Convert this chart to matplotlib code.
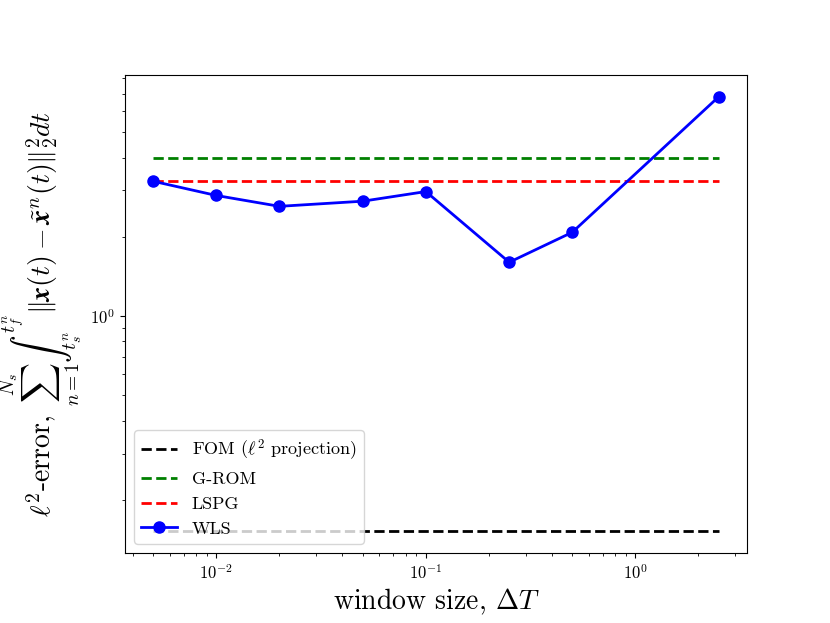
import numpy as np
import matplotlib
matplotlib.use('Agg')
import matplotlib.pyplot as plt

plt.rcParams['font.family'] = ['cmr10', 'DejaVu Serif']
plt.rcParams['mathtext.fontset'] = 'cm'
plt.rcParams['axes.formatter.use_mathtext'] = True

# window sizes and errors
window = [0.005, 0.01, 0.02, 0.05, 0.1, 0.25, 0.5, 2.5]
wls_err = [3.25, 2.87, 2.61, 2.73, 2.97, 1.60, 2.08, 6.81]
fom_err = 0.152
grom_err = 3.97
lspg_err = 3.25

fig = plt.figure(figsize=(8.3, 6.23), dpi=100)
ax = fig.add_axes([0.1506, 0.1124, 0.7494, 0.7672])

xx = [window[0], window[-1]]
ax.plot(xx, [fom_err, fom_err], 'k--', lw=2, label=r'FOM ($\ell^2$ projection)')
ax.plot(xx, [grom_err, grom_err], 'g--', lw=2, label='G-ROM')
ax.plot(xx, [lspg_err, lspg_err], 'r--', lw=2, label='LSPG')
ax.plot(window, wls_err, 'b-o', lw=2, ms=8, label='WLS')

ax.set_xscale('log')
ax.set_yscale('log')
ax.set_xlabel(r'window size, $\Delta T$', fontsize=20)
ax.set_ylabel(r'$\ell^2$-error, $\sum_{n=1}^{N_s}\int_{t_s^n}^{t_f^n}\|\boldsymbol{x}(t)-\tilde{\boldsymbol{x}}^n(t)\|_2^2 dt$',
              fontsize=20)
ax.tick_params(labelsize=12)
ax.legend(loc='lower left', fontsize=13)

fig.savefig('out.png', dpi=100)
